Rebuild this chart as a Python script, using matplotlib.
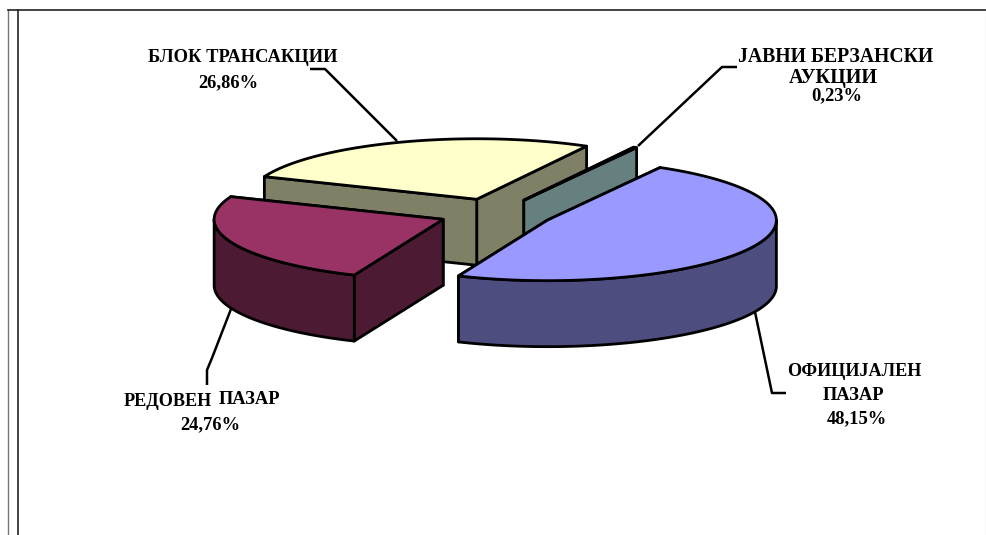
import numpy as np
import matplotlib
matplotlib.use("Agg")
import matplotlib.pyplot as plt
from matplotlib.patches import Polygon

plt.rcParams['font.family'] = ['Liberation Serif', 'DejaVu Serif']

# shares, clockwise from the start angle
names = ["ОФИЦИЈАЛЕН ПАЗАР", "РЕДОВЕН ПАЗАР", "БЛОК ТРАНСАКЦИИ", "ЈАВНИ БЕРЗАНСКИ АУКЦИИ"]
values = [48.15, 24.76, 26.86, 0.23]
top_colors = ["#9999FF", "#993366", "#FFFFCC", "#CCFFFF"]
side_colors = ["#4D4D80", "#4D1A33", "#808066", "#668080"]

# pie geometry in pixels of the picture
cx, cy = 496, 213.5
rx, ry = 229, 60.5
depth = 66
explode = 0.25
start_angle = 60.5
draw_order = [2, 3, 1, 0]

W, H = 987, 535
fig = plt.figure(figsize=(W / 100, H / 100), dpi=100)
ax = fig.add_axes([0, 0, 1, 1])
ax.set_xlim(0, W)
ax.set_ylim(H, 0)
ax.axis("off")

# page frame
ax.plot([18, 18], [10, H], color="#222222", lw=1.2)
ax.plot([8, 8], [10, H], color="#777777", lw=1.0)
ax.plot([8, 986], [10, 10], color="#222222", lw=1.2)
ax.plot([986, 986], [10, H], color="#999999", lw=0.8)


def rim(ox, oy, a0, a1, drop=0):
    t = np.radians(np.linspace(a0, a1, 80))
    return np.column_stack([ox + rx * np.cos(t), oy - ry * np.sin(t) + drop])


def face(points, color, z):
    ax.add_patch(Polygon(points, closed=True, facecolor=color, edgecolor="black",
                         lw=2.0, joinstyle="round", zorder=z))


# slice angles from the values
ends = start_angle - np.cumsum(values) * 3.6
starts = np.concatenate([[start_angle], ends[:-1]])

z = 2
for i in draw_order:
    a0, a1 = starts[i], ends[i]
    mid = np.radians((a0 + a1) / 2)
    ox = cx + explode * rx * np.cos(mid)
    oy = cy - explode * ry * np.sin(mid)
    # cut faces, the one further back first
    for a in sorted([a0, a1], key=lambda v: -np.sin(np.radians(v))):
        ex = ox + rx * np.cos(np.radians(a))
        ey = oy - ry * np.sin(np.radians(a))
        face([(ox, oy), (ex, ey), (ex, ey + depth), (ox, oy + depth)], side_colors[i], z)
        z += 1
    # outer wall, only the part below the horizontal axis shows
    lo, hi = a1, a0
    front = []
    for k in range(-1, 1):
        s0, s1 = max(lo, 360 * k - 180), min(hi, 360 * k)
        if s1 > s0:
            front.append((s0, s1))
    for s0, s1 in front:
        wall = np.vstack([rim(ox, oy, s0, s1), rim(ox, oy, s1, s0, depth)])
        face(wall, side_colors[i], z)
        z += 1
    top = np.vstack([[(ox, oy)], rim(ox, oy, a0, a1)])
    face(top, top_colors[i], z)
    z += 1

# leader lines
leaders = [
    [(786, 393), (772, 393), (755, 312)],
    [(207, 385), (207, 370), (212, 358), (231, 309)],
    [(310, 69), (325, 69), (397, 141)],
    [(737, 67), (722, 67), (638, 146)],
]
for line in leaders:
    xs, ys = zip(*line)
    ax.plot(xs, ys, color="black", lw=1.8, zorder=1, solid_capstyle="butt")


def pct(v):
    return f"{v:.2f}".replace(".", ",") + "%"


# label lines: text, centre in pixels, size
text_rows = [
    ("ОФИЦИЈАЛЕН", 854, 372, 13.1), ("ПАЗАР", 853, 396, 13.3), (pct(values[0]), 857, 419, 13.3),
    ("РЕДОВЕН", 168, 402, 13.1), ("ПАЗАР", 249, 400, 13.3), (pct(values[1]), 210, 425, 13.3),
    ("БЛОК ТРАНСАКЦИИ", 243, 57, 13.3), (pct(values[2]), 228, 83, 13.3),
    ("ЈАВНИ БЕРЗАНСКИ", 836, 57, 14.2), ("АУКЦИИ", 833, 78, 14.5), (pct(values[3]), 837, 96, 13.3),
]
for s, x, y, size in text_rows:
    ax.text(x, y, s, ha="center", va="center", fontsize=size, fontweight="bold", color="black", zorder=50)

fig.savefig("out.png", dpi=100, facecolor="white")
